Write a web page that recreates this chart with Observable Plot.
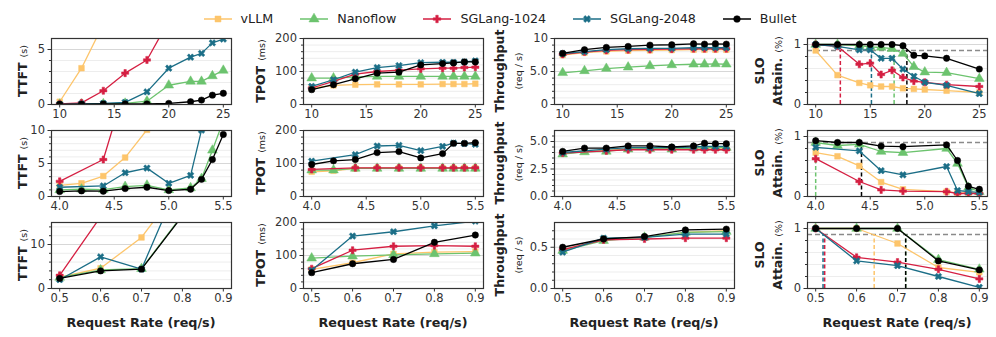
<!DOCTYPE html>
<html><head><meta charset="utf-8">
<script src="https://cdn.jsdelivr.net/npm/d3@7"></script>
<script src="https://cdn.jsdelivr.net/npm/@observablehq/plot@0.6"></script>
<style>
body{margin:0;background:#fff;font-family:"DejaVu Sans",sans-serif;}
#root{position:relative;width:996px;height:337px;overflow:hidden;background:#fff;}
.ylab{position:absolute;transform:translate(-50%,-50%) rotate(-90deg);white-space:nowrap;text-align:center;color:#222;line-height:1.1;}
.ylab b{font-weight:bold;font-size:12.5px;}
.ylab .u{font-size:9.5px;font-weight:normal;}
.xlab{position:absolute;transform:translate(-50%,-50%);font-weight:bold;font-size:12.75px;color:#222;white-space:nowrap;}
#legend{position:absolute;top:11px;left:0;width:1000px;display:flex;justify-content:center;gap:27px;font-size:12.7px;color:#222;}
#legend .it{display:flex;align-items:center;}
#legend .it span{margin-left:9px;}
</style></head>
<body><div id="root"><div id="legend"></div></div>
<script>
// ---------------- data ----------------
const series = ["vLLM", "Nanoflow", "SGLang-1024", "SGLang-2048", "Bullet"];
const colors = ["#fdc56b", "#6cc36e", "#d51f42", "#1b6e87", "#000000"];

const xHigh = [10, 12, 14, 16, 18, 20, 22, 23, 24, 25];
const xSloHigh = [10, 12, 14, 15, 16, 17, 18, 19, 20, 22, 25];
const xMid = [4.0, 4.2, 4.4, 4.6, 4.8, 5.0, 5.2, 5.3, 5.4, 5.5];
const xSloMid = [4.0, 4.2, 4.4, 4.6, 4.8, 5.2, 5.3, 5.4, 5.5];
const xLow = [0.5, 0.6, 0.7, 0.8, 0.9];

const ttftHigh = {
  "vLLM": [0.25, 3.3, 7.3, 12, 17, 22, 27, 30, 32, 35],
  "Nanoflow": [0.02, 0.03, 0.05, 0.1, 0.3, 1.75, 2.1, 2.1, 2.6, 3.1],
  "SGLang-1024": [0.05, 0.15, 1.25, 2.85, 4.05, 7.6, 11, 13, 15, 17],
  "SGLang-2048": [0.02, 0.05, 0.1, 0.2, 1.15, 3.3, 4.3, 4.65, 5.6, 5.95],
  "Bullet": [0.02, 0.03, 0.05, 0.05, 0.05, 0.1, 0.25, 0.4, 0.85, 1.02]
};
const tpotHigh = {
  "vLLM": [50, 58, 60, 61, 61, 61, 62, 62, 62, 63],
  "Nanoflow": [80, 80, 84, 85, 85, 85, 85, 85, 85, 85],
  "SGLang-1024": [50, 70, 92, 100, 104, 108, 110, 110, 112, 113],
  "SGLang-2048": [55, 75, 98, 112, 118, 127, 128, 128, 129, 132],
  "Bullet": [45, 60, 78, 95, 98, 120, 124, 126, 129, 129]
};
const tputHigh = {
  "vLLM": [7.5, 7.85, 8.05, 8.15, 8.2, 8.25, 8.3, 8.3, 8.3, 8.3],
  "Nanoflow": [4.8, 5.1, 5.45, 5.65, 5.85, 6.0, 6.1, 6.1, 6.15, 6.1],
  "SGLang-1024": [7.6, 7.95, 8.2, 8.3, 8.35, 8.4, 8.45, 8.45, 8.45, 8.45],
  "SGLang-2048": [7.7, 8.0, 8.3, 8.45, 8.5, 8.5, 8.6, 8.6, 8.6, 8.6],
  "Bullet": [7.75, 8.3, 8.65, 8.8, 9.0, 9.05, 9.2, 9.15, 9.2, 9.15]
};
const sloHigh = {
  "vLLM": [0.9, 0.49, 0.36, 0.32, 0.3, 0.3, 0.27, 0.26, 0.25, 0.23, 0.2],
  "Nanoflow": [1, 1, 0.98, 0.96, 0.95, 0.93, 0.85, 0.63, 0.54, 0.53, 0.43],
  "SGLang-1024": [1, 0.97, 0.67, 0.69, 0.5, 0.57, 0.45, 0.39, 0.37, 0.33, 0.3],
  "SGLang-2048": [1, 0.97, 0.91, 0.91, 0.77, 0.77, 0.59, 0.47, 0.37, 0.32, 0.18],
  "Bullet": [1, 1, 1, 1, 1, 1, 0.98, 0.82, 0.81, 0.77, 0.59]
};
const crossHigh = {"SGLang-1024": 12.26, "SGLang-2048": 15.11, "Nanoflow": 17.19, "Bullet": 18.36};

const ttftMid = {
  "vLLM": [1.7, 2.0, 3.1, 5.9, 10.1, 15, 20, 23, 26, 29],
  "Nanoflow": [1.0, 1.1, 1.05, 1.5, 1.7, 1.0, 1.3, 2.7, 7.0, 11.5],
  "SGLang-1024": [2.3, null, 5.6, 16.6, 25, 30, 35, 38, 40, 42],
  "SGLang-2048": [1.4, null, 1.6, 3.6, 4.3, 2.0, 3.2, 10.05, 15, 18],
  "Bullet": [0.75, 0.85, 0.8, 1.2, 1.4, 0.9, 1.1, 2.6, 5.6, 9.4]
};
const tpotMid = {
  "vLLM": [75, 78, 85, 86, 86, 86, 86, 86, 86, 86],
  "Nanoflow": [80, 80, 85, 85, 85, 85, 85, 85, 85, 85],
  "SGLang-1024": [82, null, 87, 87, 87, 87, 87, 87, 87, 87],
  "SGLang-2048": [107, null, 127, 153, 155, 139, 152, 162, 160, 158],
  "Bullet": [97, 108, 112, 133, 136, 117, 130, 161, 161, 163]
};
const tputMid = {
  "vLLM": [3.9, 4.1, 4.2, 4.35, 4.35, 4.35, 4.4, 4.4, 4.4, 4.4],
  "Nanoflow": [3.85, 4.05, 4.1, 4.3, 4.35, 4.3, 4.4, 4.45, 4.45, 4.45],
  "SGLang-1024": [3.95, null, 4.15, 4.25, 4.25, 4.25, 4.25, 4.25, 4.25, 4.25],
  "SGLang-2048": [4.0, null, 4.3, 4.45, 4.45, 4.45, 4.5, 4.55, 4.55, 4.55],
  "Bullet": [4.1, 4.4, 4.4, 4.6, 4.6, 4.5, 4.6, 4.85, 4.8, 4.8]
};
const sloMid = {
  "vLLM": [0.73, 0.67, 0.51, 0.24, 0.12, 0.08, 0.06, 0.06, 0.06],
  "Nanoflow": [0.9, 0.85, 0.87, 0.75, 0.73, 0.8, 0.55, 0.15, 0.08],
  "SGLang-1024": [0.63, null, 0.25, 0.11, 0.09, 0.08, 0.05, 0.05, 0.05],
  "SGLang-2048": [0.82, null, 0.76, 0.43, 0.36, 0.5, 0.1, 0.08, 0.07],
  "Bullet": [0.93, 0.9, 0.9, 0.84, 0.83, 0.86, 0.6, 0.17, 0.12]
};
const crossMid = {"Nanoflow": 4.0, "Bullet": 4.42};

const ttftLow = {
  "vLLM": [2.6, 4.6, 11.6, 24, 36],
  "Nanoflow": [2.5, 4.2, 4.5, 16.7, 28],
  "SGLang-1024": [3.0, 16.3, 30, 45, 60],
  "SGLang-2048": [2.0, 7.2, 4.4, 26, 45],
  "Bullet": [2.3, 4.0, 4.4, 16.5, 28]
};
const tpotLow = {
  "vLLM": [58, 78, 105, 110, 112],
  "Nanoflow": [92, 98, 102, 105, 107],
  "SGLang-1024": [60, 116, 128, 130, 128],
  "SGLang-2048": [55, 159, 172, 190, 204],
  "Bullet": [48, 75, 88, 140, 162]
};
const tputLow = {
  "vLLM": [0.47, 0.59, 0.62, 0.68, 0.70],
  "Nanoflow": [0.46, 0.58, 0.62, 0.68, 0.69],
  "SGLang-1024": [0.47, 0.59, 0.60, 0.61, 0.61],
  "SGLang-2048": [0.44, 0.61, 0.62, 0.66, 0.66],
  "Bullet": [0.50, 0.60, 0.63, 0.71, 0.72]
};
const sloLow = {
  "vLLM": [1, 1, 0.75, 0.35, 0.27],
  "Nanoflow": [1, 1, 1, 0.48, 0.32],
  "SGLang-1024": [1, 0.52, 0.44, 0.32, 0.16],
  "SGLang-2048": [1, 0.46, 0.38, 0.2, 0.02],
  "Bullet": [1, 1, 1, 0.46, 0.31]
};
const crossLow = {"SGLang-2048": 0.518, "SGLang-1024": 0.522, "vLLM": 0.643, "Nanoflow": 0.72, "Bullet": 0.72};

const sloTarget = 0.9;

// ---------------- drawing ----------------
const filledX = {
  draw(context, size) {
    const r = Math.sqrt(size / 5) / 2, c = Math.SQRT1_2;
    const pts = [[-3,-1],[-1,-1],[-1,-3],[1,-3],[1,-1],[3,-1],[3,1],[1,1],[1,3],[-1,3],[-1,1],[-3,1]];
    pts.forEach(([x, y], i) => {
      const X = (x - y) * c * r, Y = (x + y) * c * r;
      i ? context.lineTo(X, Y) : context.moveTo(X, Y);
    });
    context.closePath();
  }
};
const symbols = [d3.symbolSquare, d3.symbolTriangle, d3.symbolCross, filledX, d3.symbolCircle];
const radii = [3.2, 3.6, 3.0, 3.0, 3.2];

const root = document.getElementById("root");

// legend
const legend = document.getElementById("legend");
series.forEach((s, i) => {
  const it = document.createElement("div");
  it.className = "it";
  const sw = d3.create("svg").attr("width", 28).attr("height", 14);
  sw.append("line").attr("x1", 0).attr("x2", 28).attr("y1", 7).attr("y2", 7)
    .attr("stroke", colors[i]).attr("stroke-width", 1.5);
  sw.append("path").attr("transform", "translate(14,7)")
    .attr("d", d3.symbol(symbols[i], Math.PI * radii[i] * radii[i] * 1.1)())
    .attr("fill", colors[i]).attr("stroke", colors[i]).attr("stroke-width", 0.5);
  it.append(sw.node());
  const t = document.createElement("span");
  t.textContent = s;
  it.append(t);
  legend.append(it);
});

function rows(xs, table) {
  const out = [];
  series.forEach(s => table[s].forEach((v, i) => { if (v != null) out.push({x: xs[i], y: v, s}); }));
  return out;
}

const W = 180, H = 66, mL = 40, mR = 10, mT = 6, mB = 22;
function panel({left, top, xs, table, xDomain, xTicks, xFmt, yDomain, yMajor, yFmt, yMinor, slo, cross}) {
  const data = rows(xs, table);
  const marks = [
    Plot.ruleY(yMinor, {stroke: "#ebebeb", strokeWidth: 0.9}),
    Plot.ruleY(yMajor, {stroke: "#d2d2d2", strokeWidth: 0.9})
  ];
  if (slo) marks.push(Plot.ruleY([sloTarget], {stroke: "#8a8a8a", strokeWidth: 1.6, strokeDasharray: "5,3"}));
  if (cross) series.forEach((s, i) => {
    if (cross[s] != null) marks.push(Plot.ruleX([cross[s]], {y1: 0, y2: sloTarget, stroke: colors[i], strokeWidth: 1.5, strokeDasharray: "4,2.5"}));
  });
  series.forEach((s, i) => {
    const d = data.filter(r => r.s === s);
    marks.push(Plot.line(d, {x: "x", y: "y", stroke: colors[i], strokeWidth: 1.3, clip: true}));
    marks.push(Plot.dot(d, {x: "x", y: "y", fill: colors[i], stroke: colors[i], strokeWidth: 0.5, symbol: symbols[i], r: radii[i], clip: true}));
  });
  marks.push(Plot.axisY({ticks: yMinor, tickSize: 2, fill: "none", label: null, stroke: "#333"}));
  marks.push(Plot.axisY({ticks: yMajor, tickSize: 3.5, tickPadding: 3, tickFormat: yFmt, label: null, stroke: "#333", fill: "#333"}));
  marks.push(Plot.axisX({ticks: xTicks, tickSize: 3.5, tickPadding: 2, tickFormat: xFmt, label: null, stroke: "#333", fill: "#333"}));
  marks.push(Plot.frame({stroke: "#333", strokeWidth: 1.2}));
  const svg = Plot.plot({
    width: W + mL + mR, height: H + mT + mB,
    marginLeft: mL, marginRight: mR, marginTop: mT, marginBottom: mB,
    x: {domain: xDomain}, y: {domain: yDomain},
    style: {fontFamily: "DejaVu Sans", fontSize: "11.5px", color: "#333", background: "transparent", overflow: "visible"},
    marks
  });
  svg.style.position = "absolute";
  svg.style.left = (left - mL) + "px";
  svg.style.top = (top - mT) + "px";
  root.append(svg);
}

const colLeft = [51, 303, 554, 807];
const rowTop = [38, 130, 222];
const rowsCfg = [
  {xs: xHigh, xsSlo: xSloHigh, xDomain: [9.25, 25.75], xTicks: [10, 15, 20, 25], xFmt: d3.format("d"),
   tables: [ttftHigh, tpotHigh, tputHigh, sloHigh], cross: crossHigh,
   ttft: {yDomain: [0, 6], yMajor: [0, 5], yMinor: [1, 2, 3, 4], yFmt: d3.format("d")},
   tput: {yDomain: [0, 10], yMajor: [0, 5, 10], yMinor: [1, 2, 3, 4, 6, 7, 8, 9], yFmt: d => d === 5 ? "5.0" : String(d)}},
  {xs: xMid, xsSlo: xSloMid, xDomain: [3.925, 5.575], xTicks: [4.0, 4.5, 5.0, 5.5], xFmt: d3.format(".1f"),
   tables: [ttftMid, tpotMid, tputMid, sloMid], cross: crossMid,
   ttft: {yDomain: [0, 10], yMajor: [0, 5, 10], yMinor: [1, 2, 3, 4, 6, 7, 8, 9], yFmt: d3.format("d")},
   tput: {yDomain: [0, 6], yMajor: [0, 2.5, 5], yMinor: [0.5, 1, 1.5, 2, 3, 3.5, 4, 4.5, 5.5], yFmt: d3.format(".1f")}},
  {xs: xLow, xsSlo: xLow, xDomain: [0.48, 0.92], xTicks: [0.5, 0.6, 0.7, 0.8, 0.9], xFmt: d3.format(".1f"),
   tables: [ttftLow, tpotLow, tputLow, sloLow], cross: crossLow,
   ttft: {yDomain: [0, 15], yMajor: [0, 10], yMinor: [2, 4, 6, 8, 12, 14], yFmt: d3.format("d")},
   tput: {yDomain: [0, 0.8], yMajor: [0, 0.5], yMinor: [0.1, 0.2, 0.3, 0.4, 0.6, 0.7], yFmt: d3.format(".1f")}}
];

rowsCfg.forEach((rc, r) => {
  const common = {top: rowTop[r], xDomain: rc.xDomain, xTicks: rc.xTicks, xFmt: rc.xFmt};
  panel({...common, left: colLeft[0], xs: rc.xs, table: rc.tables[0], ...rc.ttft});
  panel({...common, left: colLeft[1], xs: rc.xs, table: rc.tables[1], yDomain: [0, 200], yMajor: [0, 100, 200],
         yMinor: [20, 40, 60, 80, 120, 140, 160, 180], yFmt: d3.format("d")});
  panel({...common, left: colLeft[2], xs: rc.xs, table: rc.tables[2], ...rc.tput});
  panel({...common, left: colLeft[3], xs: rc.xsSlo, table: rc.tables[3], yDomain: [0, 1.1], yMajor: [0, 1],
         yMinor: [0.2, 0.4, 0.6, 0.8], yFmt: d3.format("d"), slo: true, cross: rc.cross});

  const cy = rowTop[r] + H / 2;
  const labs = [
    [22, '<b>TTFT</b> <span class="u">(s)</span>'],
    [260, '<b>TPOT</b> <span class="u">(ms)</span>'],
    [508, '<b>Throughput</b><br><span class="u">(req / s)</span>'],
    [768, '<b>SLO</b><br><b>Attain.</b> <span class="u">(%)</span>']
  ];
  labs.forEach(([x, html]) => {
    const d = document.createElement("div");
    d.className = "ylab";
    d.style.left = x + "px";
    d.style.top = cy + "px";
    d.innerHTML = html;
    root.append(d);
  });
});

colLeft.forEach(l => {
  const d = document.createElement("div");
  d.className = "xlab";
  d.style.left = (l + W / 2) + "px";
  d.style.top = "322px";
  d.textContent = "Request Rate (req/s)";
  root.append(d);
});
</script>
</body></html>
